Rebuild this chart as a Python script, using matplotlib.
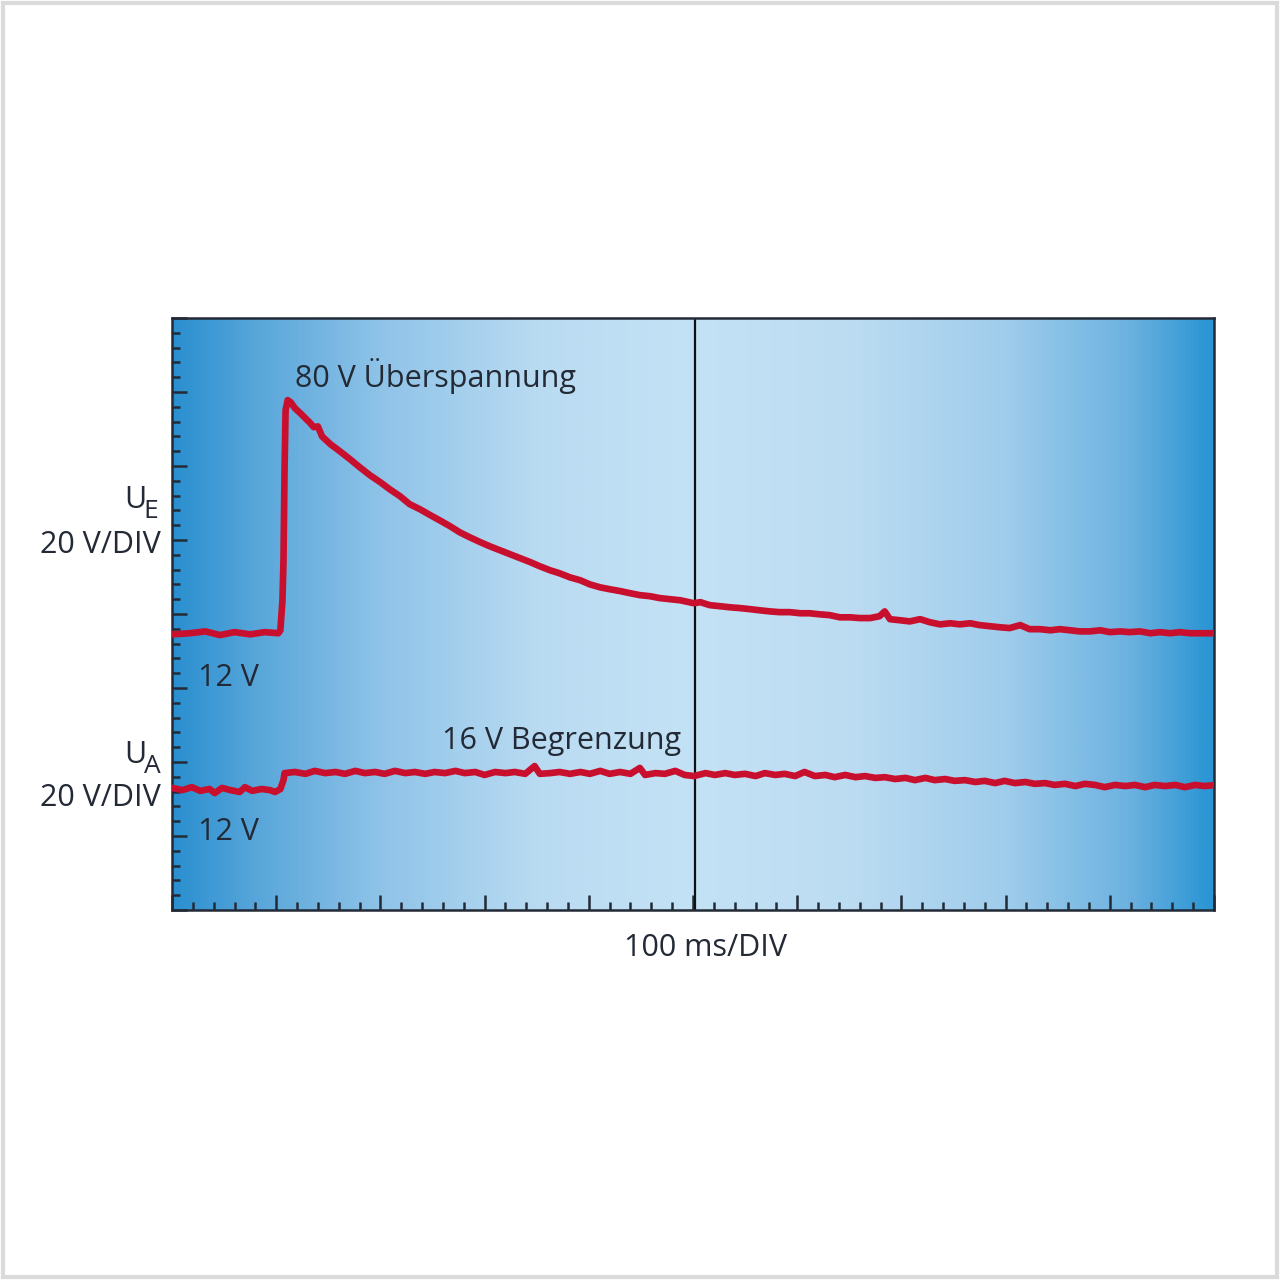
import matplotlib
matplotlib.use("Agg")
from matplotlib import pyplot as plt
from matplotlib.colors import LinearSegmentedColormap
from matplotlib.patches import Rectangle
import numpy as np

plt.rcParams['font.family'] = ['Open Sans', 'DejaVu Sans']

# input voltage U_E (time in ms, voltage in V)
ue_t = [0, 17, 32, 46, 60, 75, 89, 102, 104, 106, 107, 108, 109, 111, 114, 118, 123, 128,
        132, 136, 140, 144, 152, 161, 171, 180, 190, 200, 209, 219, 228, 238, 248, 257,
        267, 276, 286, 296, 305, 315, 324, 334, 344, 353, 363, 372, 382, 392, 401, 411,
        420, 430, 440, 449, 459, 468, 478, 488, 501, 507, 516, 526, 536, 545, 555, 564,
        574, 583, 593, 603, 612, 622, 631, 641, 651, 660, 670, 679, 684, 689, 699, 708,
        718, 727, 737, 747, 756, 766, 775, 785, 795, 804, 814, 823, 833, 843, 852, 862,
        871, 881, 891, 900, 910, 919, 929, 939, 948, 958, 967, 977, 987, 1000]
ue_v = [11.7, 12.0, 12.5, 11.5, 12.3, 11.7, 12.3, 12.0, 12.8, 20.9, 31.7, 56.1, 72.3, 75.0,
        74.4, 72.8, 71.5, 70.1, 69.0, 67.7, 67.9, 65.2, 63.1, 61.2, 59.0, 56.9, 54.7, 52.8,
        50.9, 49.0, 46.9, 45.5, 43.9, 42.5, 40.9, 39.3, 37.9, 36.6, 35.5, 34.4, 33.4, 32.3,
        31.2, 30.1, 29.0, 28.2, 27.1, 26.3, 25.2, 24.4, 23.9, 23.4, 22.8, 22.3, 22.0, 21.5,
        21.2, 20.9, 20.1, 20.4, 19.6, 19.3, 19.0, 18.8, 18.5, 18.2, 17.9, 17.7, 17.7, 17.4,
        17.4, 17.1, 16.9, 16.3, 16.3, 16.1, 16.1, 16.6, 17.9, 15.8, 15.5, 15.2, 15.8, 15.0,
        14.4, 14.7, 14.4, 14.7, 14.2, 13.9, 13.6, 13.4, 14.2, 13.1, 13.1, 12.8, 13.1, 12.8,
        12.5, 12.5, 12.8, 12.3, 12.5, 12.3, 12.5, 12.0, 12.3, 12.0, 12.3, 12.0, 12.0, 12.0]

# output voltage U_A
ua_t = [0, 10, 19, 27, 36, 41, 48, 56, 65, 70, 77, 86, 94, 99, 104, 107, 108, 118, 128, 137,
        147, 157, 166, 176, 185, 195, 204, 214, 224, 233, 243, 252, 262, 272, 281, 291, 300,
        310, 320, 329, 339, 348, 353, 363, 372, 382, 392, 401, 411, 420, 430, 440, 449, 454,
        464, 473, 483, 492, 501, 512, 521, 531, 540, 550, 560, 569, 579, 588, 598, 607, 617,
        627, 636, 646, 656, 665, 675, 684, 694, 704, 713, 723, 732, 742, 751, 761, 771, 780,
        790, 799, 809, 819, 828, 838, 847, 857, 867, 876, 886, 895, 905, 915, 924, 934, 943,
        953, 963, 972, 982, 991, 1002]
ua_v = [12.3, 11.7, 12.5, 11.5, 12.0, 10.9, 12.3, 11.7, 11.2, 12.5, 11.5, 12.0, 11.7, 11.2,
        12.0, 14.4, 16.3, 16.6, 16.1, 16.9, 16.3, 16.6, 16.1, 16.9, 16.3, 16.6, 16.1, 16.9,
        16.3, 16.6, 16.1, 16.6, 16.3, 16.9, 16.3, 16.6, 15.8, 16.6, 16.3, 16.6, 16.1, 18.2,
        16.1, 16.3, 16.6, 16.1, 16.6, 16.1, 16.9, 16.1, 16.6, 16.1, 17.7, 15.8, 16.3, 16.1,
        16.9, 15.8, 15.5, 16.3, 15.8, 16.3, 15.8, 16.1, 15.5, 16.3, 15.8, 16.1, 15.5, 16.6,
        15.5, 15.8, 15.2, 15.8, 15.2, 15.5, 15.0, 15.2, 14.7, 15.0, 14.4, 15.0, 14.4, 14.7,
        14.2, 14.4, 13.9, 14.2, 13.6, 14.2, 13.6, 13.9, 13.4, 13.6, 13.1, 13.4, 12.8, 13.4,
        13.1, 12.5, 13.1, 12.8, 13.1, 12.5, 13.1, 12.8, 13.1, 12.5, 13.1, 12.8, 13.1]

# screen position (in divisions) of the 12 V level of each channel
ue_ref = 3.74
ua_ref = 1.635
volt_per_div = 20.0

# background gradient stops
grad_pos = [0.0, 0.08, 0.2, 0.35, 0.5, 0.65, 0.8, 0.92, 1.0]
grad_col = ['#2a8fd0', '#58a6da', '#8fc3e8', '#b9dbf2', '#c4e2f5', '#bcdcf2',
            '#a0cdec', '#6cb2e0', '#2994d3']

red = '#c8102e'
ink = '#232a36'

fig = plt.figure(figsize=(12.8, 12.8), dpi=100)
fig.patches.append(Rectangle((0.002, 0.002), 0.996, 0.996, transform=fig.transFigure,
                             fill=False, edgecolor='#dadada', linewidth=3))
ax = fig.add_axes([172/1280, 1 - 910/1280, 1042/1280, 592/1280])

cmap = LinearSegmentedColormap.from_list('bg', list(zip(grad_pos, grad_col)))
ax.imshow(np.linspace(0, 1, 512).reshape(1, -1), cmap=cmap, aspect='auto',
          extent=[0, 1000, 0, 8], zorder=0)

ax.axvline(502, color='#111111', lw=1.6, zorder=2)

ue_y = ue_ref + (np.array(ue_v) - 12) / volt_per_div
ua_y = ua_ref + (np.array(ua_v) - 12) / volt_per_div
ax.plot(ue_t, ue_y, color=red, lw=4.8, solid_joinstyle='round', zorder=3)
ax.plot(ua_t, ua_y, color=red, lw=4.8, solid_joinstyle='round', zorder=3)

ax.set_xlim(0, 1000)
ax.set_ylim(0, 8)
ax.set_xticks(np.arange(0, 1001, 100))
ax.set_xticks(np.arange(0, 1001, 20), minor=True)
ax.set_yticks(np.arange(0, 9, 1))
ax.set_yticks(np.arange(0, 8.01, 0.2), minor=True)
ax.tick_params(which='both', direction='in', color=ink, labelbottom=False, labelleft=False)
ax.tick_params(which='major', length=11, width=1.8)
ax.tick_params(which='minor', length=6, width=1.8)
for s in ax.spines.values():
    s.set_color(ink)
    s.set_linewidth(1.8)

fs = 22
ax.text(118, 7.22, '80 V Überspannung', fontsize=fs, color=ink, va='center', ha='left')
ax.text(259, 2.28, '16 V Begrenzung', fontsize=fs, color=ink, va='center', ha='left')
ax.text(25, 3.135, '12 V', fontsize=fs, color=ink, va='center', ha='left')
ax.text(25, 1.05, '12 V', fontsize=fs, color=ink, va='center', ha='left')
# channel names with subscripts
ax.text(-46, 5.54, 'U', fontsize=fs, color=ink, va='center', ha='left', clip_on=False)
ax.text(-27, 5.38, 'E', fontsize=19, color=ink, va='center', ha='left', clip_on=False)
ax.text(-11, 4.93, '20 V/DIV', fontsize=fs, color=ink, va='center', ha='right', clip_on=False)
ax.text(-46, 2.10, 'U', fontsize=fs, color=ink, va='center', ha='left', clip_on=False)
ax.text(-27, 1.94, 'A', fontsize=19, color=ink, va='center', ha='left', clip_on=False)
ax.text(-11, 1.51, '20 V/DIV', fontsize=fs, color=ink, va='center', ha='right', clip_on=False)
ax.text(512, -0.51, '100 ms/DIV', fontsize=fs, color=ink, va='center', ha='center', clip_on=False)

fig.savefig('out.png', dpi=100)
